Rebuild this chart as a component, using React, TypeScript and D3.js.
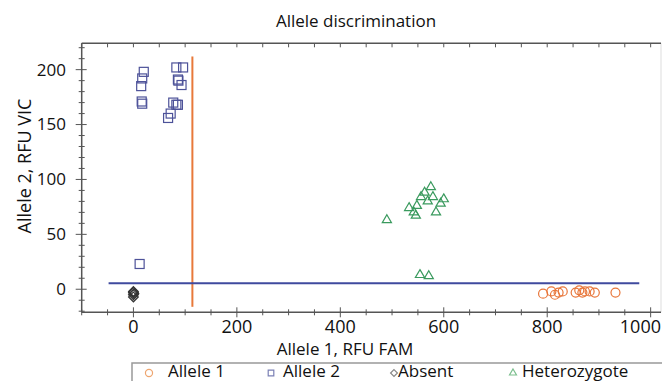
import React, { useRef, useEffect } from 'react';
import * as d3 from 'd3';

// RFU readings per genotype call (x = FAM, y = VIC)
const allele1X = [792, 808, 815, 822, 830, 855, 862, 868, 873, 882, 892, 932];
const allele1Y = [-4, -2, -5, -3, -2, -3, -1, -3, -2, -2, -3, -3];

const allele2X = [20, 17, 15, 17, 16, 83, 96, 86, 87, 93, 77, 86, 83, 72, 67, 12];
const allele2Y = [198, 192, 185, 169, 171, 202, 202, 191, 190, 186, 170, 168, 168, 160, 156, 23];

const absentX = [0, 0, 1, 0, 0];
const absentY = [-2, -3, -4, -5, -7];

const hetX = [490, 533, 542, 546, 548, 556, 563, 575, 569, 579, 585, 594, 600, 554, 571];
const hetY = [64, 75, 71, 68, 77, 85, 89, 94, 81, 85, 71, 79, 83, 14, 13];

// cluster thresholds
const famCut = 114;
const famCutRange = [-16, 212];
const vicCut = 5.5;
const vicCutRange = [-48, 978];

const xMajor = [0, 200, 400, 600, 800, 1000];
const yMajor = [0, 50, 100, 150, 200];

const legendLabels = ['Allele 1', 'Allele 2', 'Absent', 'Heterozygote'];

const FONT = "'Open Sans', sans-serif";

function AlleleChart() {
  const ref = useRef<SVGSVGElement>(null);

  useEffect(() => {
    const svg = d3.select(ref.current);
    svg.selectAll('*').remove();

    const width = 662;
    const height = 381;
    const left = 81.7, right = 661, top = 43.3, bottom = 312.3;

    const x = d3.scaleLinear().domain([-100, 1020]).range([left, right]);
    const y = d3.scaleLinear().domain([-21, 224]).range([bottom, top]);

    svg.append('rect').attr('width', width).attr('height', height).attr('fill', 'white');

    const axisColor = '#555';

    // frame
    svg.append('line').attr('x1', right).attr('x2', right).attr('y1', top).attr('y2', bottom)
      .attr('stroke', '#ddd').attr('stroke-width', 1);

    const xMinor = d3.range(-100, 1001, 50).filter(v => !xMajor.includes(v));
    const yMinor = d3.range(-20, 221, 10).filter(v => !yMajor.includes(v));

    // bottom axis
    const bx = svg.append('g');
    bx.append('line').attr('x1', left).attr('x2', right).attr('y1', bottom).attr('y2', bottom)
      .attr('stroke', axisColor).attr('stroke-width', 1.5);
    bx.selectAll('line.maj').data(xMajor).join('line').attr('class', 'maj')
      .attr('x1', d => x(d)).attr('x2', d => x(d)).attr('y1', bottom - 5).attr('y2', bottom + 5)
      .attr('stroke', axisColor);
    bx.selectAll('line.min').data(xMinor).join('line').attr('class', 'min')
      .attr('x1', d => x(d)).attr('x2', d => x(d)).attr('y1', bottom - 3).attr('y2', bottom + 3)
      .attr('stroke', axisColor);
    bx.selectAll('text').data(xMajor).join('text')
      .attr('x', d => (d === 1000 ? 661 : x(d)))
      .attr('y', 333)
      .attr('text-anchor', d => (d === 1000 ? 'end' : 'middle'))
      .attr('font-family', FONT).attr('font-size', 18)
      .attr('fill', '#111').text(d => d);

    // top axis
    const tx = svg.append('g');
    tx.append('line').attr('x1', left).attr('x2', right).attr('y1', top).attr('y2', top)
      .attr('stroke', axisColor).attr('stroke-width', 1.5);
    tx.selectAll('line.t').data(xMajor.concat(xMinor)).join('line').attr('class', 't')
      .attr('x1', d => x(d)).attr('x2', d => x(d)).attr('y1', top).attr('y2', top + 4)
      .attr('stroke', axisColor);

    // left axis
    const ly = svg.append('g');
    ly.append('line').attr('x1', left).attr('x2', left).attr('y1', top).attr('y2', bottom)
      .attr('stroke', axisColor).attr('stroke-width', 1.5);
    ly.selectAll('line.maj').data(yMajor).join('line').attr('class', 'maj')
      .attr('x1', left - 6).attr('x2', left + 5).attr('y1', d => y(d)).attr('y2', d => y(d))
      .attr('stroke', axisColor);
    ly.selectAll('line.min').data(yMinor).join('line').attr('class', 'min')
      .attr('x1', left - 3).attr('x2', left + 3).attr('y1', d => y(d)).attr('y2', d => y(d))
      .attr('stroke', axisColor);
    ly.selectAll('text').data(yMajor).join('text')
      .attr('x', 66).attr('y', d => y(d)).attr('dy', '0.35em')
      .attr('text-anchor', 'end').attr('font-family', FONT).attr('font-size', 17)
      .attr('fill', '#111').text(d => d);

    // titles
    svg.append('text').attr('x', 356).attr('y', 27).attr('text-anchor', 'middle')
      .attr('font-family', FONT).attr('font-size', 17).attr('fill', '#111')
      .text('Allele discrimination');
    svg.append('text').attr('x', 345).attr('y', 355).attr('text-anchor', 'middle')
      .attr('font-family', FONT).attr('font-size', 17).attr('fill', '#111')
      .text('Allele 1, RFU FAM');
    svg.append('text').attr('transform', 'translate(31,166) rotate(-90)').attr('text-anchor', 'middle')
      .attr('font-family', FONT).attr('font-size', 18).attr('fill', '#111')
      .text('Allele 2, RFU VIC');

    // threshold lines
    svg.append('line').attr('x1', x(famCut)).attr('x2', x(famCut))
      .attr('y1', y(famCutRange[0])).attr('y2', y(famCutRange[1]))
      .attr('stroke', '#e8793a').attr('stroke-width', 2);
    svg.append('line').attr('x1', x(vicCutRange[0])).attr('x2', x(vicCutRange[1]))
      .attr('y1', y(vicCut)).attr('y2', y(vicCut))
      .attr('stroke', '#3f4a9e').attr('stroke-width', 2);

    const c1 = '#e8763a', c2 = '#4d5299', c3 = '#333', c4 = '#3a9a5e';

    // points
    const g = svg.append('g').attr('fill', 'none').attr('stroke-width', 1.2);
    g.selectAll('circle').data(d3.zip(allele1X, allele1Y)).join('circle')
      .attr('cx', d => x(d[0])).attr('cy', d => y(d[1])).attr('r', 4.5).attr('stroke', c1);
    g.selectAll('rect').data(d3.zip(allele2X, allele2Y)).join('rect')
      .attr('x', d => x(d[0]) - 4.5).attr('y', d => y(d[1]) - 4.5)
      .attr('width', 9).attr('height', 9).attr('stroke', c2);
    const diamond = d3.symbol(d3.symbolDiamond2, 60)();
    g.selectAll('path.ab').data(d3.zip(absentX, absentY)).join('path').attr('class', 'ab')
      .attr('d', diamond).attr('transform', d => `translate(${x(d[0])},${y(d[1])})`)
      .attr('stroke', c3);
    const tri = d3.symbol(d3.symbolTriangle2, 60)();
    g.selectAll('path.het').data(d3.zip(hetX, hetY)).join('path').attr('class', 'het')
      .attr('d', tri).attr('transform', d => `translate(${x(d[0])},${y(d[1]) + 1})`)
      .attr('stroke', c4);

    // legend
    const lg = svg.append('g');
    lg.append('rect').attr('x', 132).attr('y', 363).attr('width', 540).attr('height', 30)
      .attr('fill', 'white').attr('stroke', '#999').attr('stroke-width', 1.5);
    const lx = [149, 271, 394, 513];
    const tx2 = [168, 283, 398, 522];
    const markers = [
      d3.symbol(d3.symbolCircle, 40)(),
      d3.symbol(d3.symbolSquare2, 40)(),
      d3.symbol(d3.symbolDiamond2, 30)(),
      d3.symbol(d3.symbolTriangle2, 35)(),
    ];
    const lcol = ['#eea56f', '#7b80b5', '#888', '#7cbf8e'];
    legendLabels.forEach((label, i) => {
      lg.append('path').attr('d', markers[i]).attr('transform', `translate(${lx[i]},373)`)
        .attr('fill', 'none').attr('stroke', lcol[i]).attr('stroke-width', 1.2);
      lg.append('text').attr('x', tx2[i]).attr('y', 377)
        .attr('font-family', FONT).attr('font-size', 17).attr('fill', '#111').text(label);
    });
  }, []);

  return <svg ref={ref} width={662} height={381} style={{ position: 'absolute', left: 0, top: 0 }} />;
}

export default function App() {
  return <AlleleChart />;
}
